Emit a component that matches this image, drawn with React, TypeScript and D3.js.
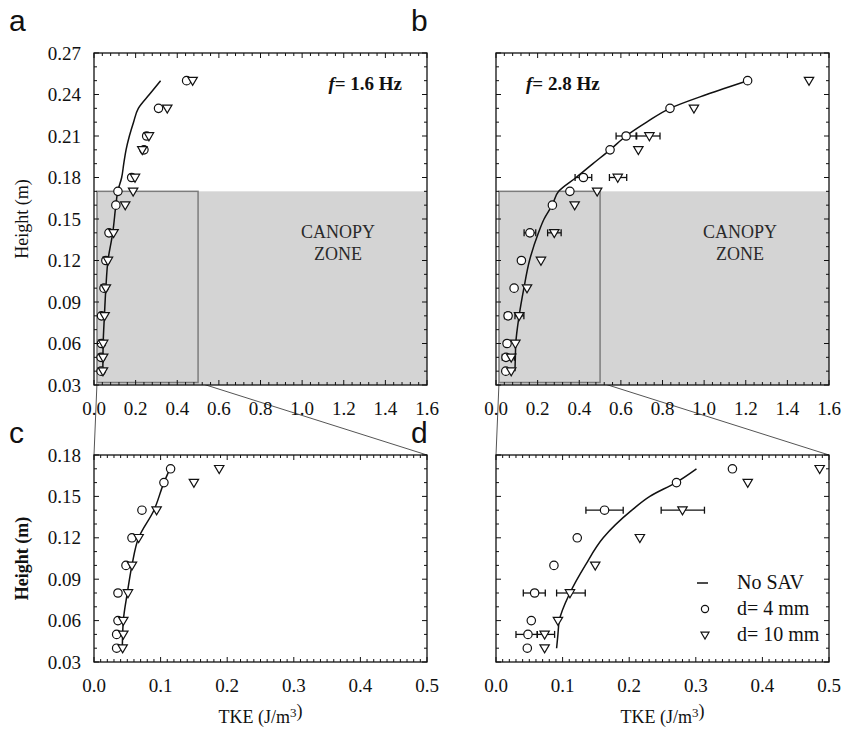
import React from "react";
import * as d3 from "d3";

// ---------- data ----------
const HEIGHTS = [0.04, 0.05, 0.06, 0.08, 0.10, 0.12, 0.14, 0.16, 0.17, 0.18, 0.20, 0.21, 0.23, 0.25];
const F16_D4 = [0.034, 0.034, 0.036, 0.036, 0.048, 0.057, 0.072, 0.105, 0.115, 0.181, 0.240, 0.253, 0.310, 0.445];
const F16_D10 = [0.043, 0.044, 0.044, 0.051, 0.057, 0.067, 0.094, 0.150, 0.188, 0.197, 0.232, 0.264, 0.352, 0.474];
const F28_D4 = [0.047, 0.048, 0.053, 0.058, 0.087, 0.122, 0.163, 0.271, 0.355, 0.420, 0.548, 0.625, 0.836, 1.209];
const F28_D10 = [0.073, 0.073, 0.093, 0.111, 0.149, 0.216, 0.280, 0.378, 0.486, 0.585, 0.684, 0.737, 0.951, 1.504];

const ERR_HEIGHTS = [0.05, 0.08, 0.14, 0.18, 0.21];
const F28_D4_LO = [0.030, 0.041, 0.135, 0.380, 0.577];
const F28_D4_HI = [0.062, 0.074, 0.191, 0.460, 0.673];
const F28_D10_LO = [0.062, 0.091, 0.248, 0.545, 0.676];
const F28_D10_HI = [0.088, 0.134, 0.313, 0.628, 0.788];

const LINE_H_F16 = [0.04, 0.05, 0.06, 0.08, 0.10, 0.12, 0.14, 0.16, 0.17, 0.18, 0.19, 0.20, 0.21, 0.22, 0.23, 0.24, 0.25];
const LINE_F16 = [0.0425, 0.043, 0.044, 0.050, 0.057, 0.067, 0.090, 0.105, 0.114, 0.133, 0.143, 0.154, 0.170, 0.190, 0.213, 0.266, 0.320];
const LINE_H_F28 = [0.04, 0.05, 0.06, 0.08, 0.10, 0.12, 0.14, 0.15, 0.16, 0.17, 0.18, 0.19, 0.20, 0.21, 0.22, 0.23, 0.24, 0.25];
const LINE_F28 = [0.091, 0.093, 0.095, 0.111, 0.134, 0.161, 0.204, 0.231, 0.270, 0.301, 0.385, 0.466, 0.548, 0.625, 0.724, 0.836, 1.012, 1.209];

const Y_TICKS_FULL = [0.03, 0.06, 0.09, 0.12, 0.15, 0.18, 0.21, 0.24, 0.27];
const Y_TICKS_ZOOM = [0.03, 0.06, 0.09, 0.12, 0.15, 0.18];
const X_TICKS_FULL = [0, 0.2, 0.4, 0.6, 0.8, 1.0, 1.2, 1.4, 1.6];
const X_TICKS_ZOOM = [0, 0.1, 0.2, 0.3, 0.4, 0.5];

const CANOPY_TOP = 0.17;
const ZOOM_X_MAX = 0.5;

const SERIF = "'Liberation Serif', 'Times New Roman', serif";
const SANS = "'Liberation Sans', Arial, sans-serif";

type PanelCfg = {
  id: string;
  x0: number; x1: number; y0: number; y1: number;
  xMax: number; yMax: number;
  xMinorStep: number; xTicks: number[]; yTicks: number[];
  showYLabels: boolean; showXTitle: boolean; boldYTitle: boolean;
  canopy: boolean;
  lineH: number[]; lineV: number[];
  d4: number[]; d10: number[];
  err?: boolean;
};

function Tri({ x, y, s = 1 }: { x: number; y: number; s?: number }) {
  return (
    <path
      d={`M${x - 4.7 * s},${y - 3.3 * s} L${x + 4.7 * s},${y - 3.3 * s} L${x},${y + 4.7 * s} Z`}
      fill="white" stroke="#111" strokeWidth={1.2} />
  );
}

function Panel({ c }: { c: PanelCfg }) {
  const x = d3.scaleLinear().domain([0, c.xMax]).range([c.x0, c.x1]);
  const y = d3.scaleLinear().domain([0.03, c.yMax]).range([c.y1, c.y0]);
  const keepLine = c.lineH.map((h, i) => i).filter((i) => c.lineH[i] <= c.yMax - 0.009);
  const lineD = d3.line<number>()
    .x((i) => x(c.lineV[i]))
    .y((i) => y(c.lineH[i]))
    .curve(d3.curveMonotoneY)(keepLine);
  const idx = HEIGHTS.map((_, i) => i).filter((i) => HEIGHTS[i] <= c.yMax - 0.005);

  const yMinor = d3.range(0.03, c.yMax + 0.0001, 0.01);
  const xMinor = d3.range(0, c.xMax + 0.0001, c.xMinorStep);
  const isMajorY = (v: number) => Y_TICKS_FULL.some((t) => Math.abs(t - v) < 1e-6);
  const isMajorX = (v: number) => c.xTicks.some((t) => Math.abs(t - v) < 1e-6);
  const clipId = `clip-${c.id}`;

  return (
    <g>
      <defs>
        <clipPath id={clipId}>
          <rect x={c.x0} y={c.y0} width={c.x1 - c.x0} height={c.y1 - c.y0} />
        </clipPath>
      </defs>
      {c.canopy && (
        <g>
          <rect x={x(0) + 3} y={y(CANOPY_TOP)} width={c.x1 - x(0) - 3} height={c.y1 - y(CANOPY_TOP)} fill="#d4d4d4" />
          <rect x={x(0) + 3} y={y(CANOPY_TOP)} width={x(ZOOM_X_MAX) - x(0) - 3} height={c.y1 - 2.5 - y(CANOPY_TOP)}
            fill="none" stroke="#7c7c7c" strokeWidth={1.5} />
          <text x={c.x1 - 89} y={238} textAnchor="middle" fontFamily={SERIF} fontSize={18} fill="#2a2a2a">CANOPY</text>
          <text x={c.x1 - 89} y={260} textAnchor="middle" fontFamily={SERIF} fontSize={18} fill="#2a2a2a">ZONE</text>
        </g>
      )}
      <g clipPath={`url(#${clipId})`}>
        {lineD && <path d={lineD} fill="none" stroke="#111" strokeWidth={1.5} />}
        {c.err && ERR_HEIGHTS.map((h, i) => {
          if (h > c.yMax - 0.005) return null;
          const yy = y(h);
          return (
            <g key={`e${i}`} stroke="#111" strokeWidth={1.3}>
              {[[F28_D4_LO[i], F28_D4_HI[i]], [F28_D10_LO[i], F28_D10_HI[i]]].map(([lo, hi], k) => (
                <g key={k}>
                  <line x1={x(lo)} x2={x(hi)} y1={yy} y2={yy} />
                  <line x1={x(lo)} x2={x(lo)} y1={yy - 3.5} y2={yy + 3.5} />
                  <line x1={x(hi)} x2={x(hi)} y1={yy - 3.5} y2={yy + 3.5} />
                </g>
              ))}
            </g>
          );
        })}
        {idx.map((i) => (
          <circle key={`c${i}`} cx={x(c.d4[i])} cy={y(HEIGHTS[i])} r={4.2} fill="white" stroke="#111" strokeWidth={1.2} />
        ))}
        {idx.map((i) => (
          <Tri key={`t${i}`} x={x(c.d10[i])} y={y(HEIGHTS[i])} />
        ))}
      </g>
      {/* frame */}
      <rect x={c.x0} y={c.y0} width={c.x1 - c.x0} height={c.y1 - c.y0} fill="none" stroke="#111" strokeWidth={1.3} />
      {/* ticks */}
      <g stroke="#111" strokeWidth={1}>
        {yMinor.map((v, i) => {
          const L = isMajorY(v) ? 5 : 3;
          return (
            <g key={`yt${i}`}>
              <line x1={c.x0} x2={c.x0 + L} y1={y(v)} y2={y(v)} />
              <line x1={c.x1} x2={c.x1 - L} y1={y(v)} y2={y(v)} />
            </g>
          );
        })}
        {xMinor.map((v, i) => {
          const L = isMajorX(v) ? 5 : 3;
          return (
            <g key={`xt${i}`}>
              <line x1={x(v)} x2={x(v)} y1={c.y1} y2={c.y1 - L} />
              <line x1={x(v)} x2={x(v)} y1={c.y0} y2={c.y0 + L} />
            </g>
          );
        })}
      </g>
      {/* labels */}
      {c.showYLabels && c.yTicks.map((t, i) => (
        <text key={`yl${i}`} x={c.x0 - 13} y={y(t) + 6.5} textAnchor="end" fontFamily={SERIF} fontSize={19} fill="#111">{t.toFixed(2)}</text>
      ))}
      {c.xTicks.map((t, i) => (
        <text key={`xl${i}`} x={x(t)} y={c.y1 + 30} textAnchor="middle" fontFamily={SERIF} fontSize={19} fill="#111">{t.toFixed(1)}</text>
      ))}
      {c.showYLabels && (
        <text transform={`translate(28,${(c.y0 + c.y1) / 2}) rotate(-90)`} textAnchor="middle" fontFamily={SERIF}
          fontSize={18} fontWeight={c.boldYTitle ? "bold" : "normal"} fill="#111">Height (m)</text>
      )}
      {c.showXTitle && (
        <text x={(c.x0 + c.x1) / 2} y={723} textAnchor="middle" fontFamily={SERIF} fontSize={18} fill="#111">
          TKE (J/m<tspan dy={-6} fontSize={13}>3</tspan>)
        </text>
      )}
    </g>
  );
}

export default function App() {
  const A: PanelCfg = {
    id: "a", x0: 94, x1: 427, y0: 53, y1: 385, xMax: 1.6, yMax: 0.27, xMinorStep: 0.04,
    xTicks: X_TICKS_FULL, yTicks: Y_TICKS_FULL, showYLabels: true, showXTitle: false, boldYTitle: false,
    canopy: true, lineH: LINE_H_F16, lineV: LINE_F16, d4: F16_D4, d10: F16_D10,
  };
  const B: PanelCfg = {
    ...A, id: "b", x0: 496, x1: 829, showYLabels: false,
    lineH: LINE_H_F28, lineV: LINE_F28, d4: F28_D4, d10: F28_D10, err: true,
  };
  const C: PanelCfg = {
    id: "c", x0: 94, x1: 427, y0: 455, y1: 662, xMax: 0.5, yMax: 0.18, xMinorStep: 0.01,
    xTicks: X_TICKS_ZOOM, yTicks: Y_TICKS_ZOOM, showYLabels: true, showXTitle: true, boldYTitle: true,
    canopy: false, lineH: LINE_H_F16, lineV: LINE_F16, d4: F16_D4, d10: F16_D10,
  };
  const D: PanelCfg = {
    ...C, id: "d", x0: 496, x1: 829, showYLabels: false,
    lineH: LINE_H_F28, lineV: LINE_F28, d4: F28_D4, d10: F28_D10, err: true,
  };

  const connectors = [A, B].map((p, k) => {
    const x = d3.scaleLinear().domain([0, p.xMax]).range([p.x0, p.x1]);
    const z = k === 0 ? C : D;
    return (
      <g key={k} stroke="#555" strokeWidth={1}>
        <line x1={x(0) + 3} y1={p.y1 - 2.5} x2={z.x0} y2={z.y0} />
        <line x1={x(ZOOM_X_MAX)} y1={p.y1 - 2.5} x2={z.x1} y2={z.y0} />
      </g>
    );
  });

  return (
    <svg width={843} height={729} viewBox="0 0 843 729"
      style={{ position: "absolute", left: 0, top: 0, background: "white" }}>
      <rect x={0} y={0} width={843} height={729} fill="white" />
      {connectors}
      <Panel c={A} />
      <Panel c={B} />
      <Panel c={C} />
      <Panel c={D} />
      {/* panel letters */}
      <text x={9} y={31} fontFamily={SANS} fontSize={30} fill="#111">a</text>
      <text x={411} y={31} fontFamily={SANS} fontSize={30} fill="#111">b</text>
      <text x={9} y={443} fontFamily={SANS} fontSize={30} fill="#111">c</text>
      <text x={411} y={443} fontFamily={SANS} fontSize={30} fill="#111">d</text>
      {/* frequency labels */}
      <text x={402} y={90} textAnchor="end" fontFamily={SERIF} fontSize={19} fontWeight="bold" fill="#111">
        <tspan fontStyle="italic">f</tspan>= 1.6 Hz
      </text>
      <text x={526} y={90} textAnchor="start" fontFamily={SERIF} fontSize={19} fontWeight="bold" fill="#111">
        <tspan fontStyle="italic">f</tspan>= 2.8 Hz
      </text>
      {/* legend in d */}
      <g>
        <line x1={697} x2={708} y1={583} y2={583} stroke="#111" strokeWidth={1.5} />
        <text x={737} y={589} fontFamily={SERIF} fontSize={20} fill="#111">No SAV</text>
        <circle cx={705} cy={609} r={3.6} fill="white" stroke="#111" strokeWidth={1.2} />
        <text x={737} y={615} fontFamily={SERIF} fontSize={20} fill="#111">d= 4 mm</text>
        <Tri x={705} y={635} s={0.85} />
        <text x={737} y={641} fontFamily={SERIF} fontSize={20} fill="#111">d= 10 mm</text>
      </g>
    </svg>
  );
}
